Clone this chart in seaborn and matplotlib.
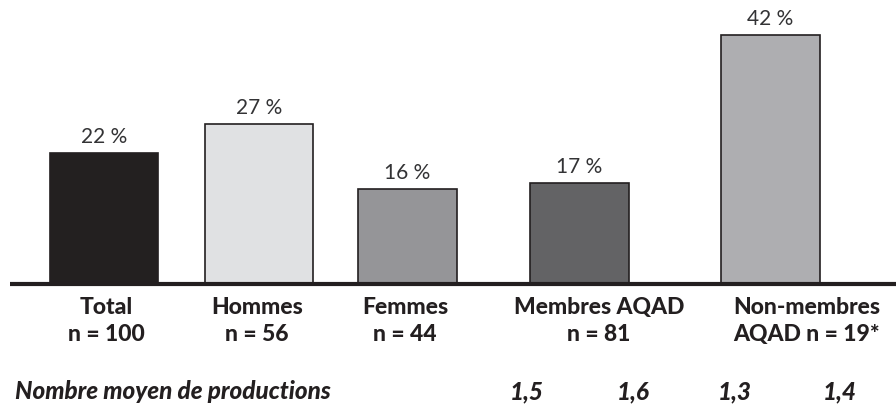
import matplotlib
matplotlib.use("Agg")
import matplotlib.pyplot as plt
import matplotlib.transforms as mtransforms
import seaborn as sns
import pandas as pd

# Data
categories = ["Total", "Hommes", "Femmes", "Membres AQAD", "Non-membres AQAD"]
cat_labels = ["Total\nn = 100", "Hommes\nn = 56", "Femmes\nn = 44",
              "Membres AQAD\nn = 81", "Non-membres\nAQAD n = 19*"]
percentages = [22, 27, 16, 17, 42]
mean_productions = [1.5, 1.6, 1.3, 1.4]
mean_label = "Nombre moyen de productions"

# Layout (horizontal positions on a 0-896 axis)
bar_centers = [104, 259, 407, 579, 770]
bar_widths = [108, 108, 99, 99, 99]
label_centers = [106, 257, 405, 599, 807]
mean_centers = [527, 633, 735, 840]
colors = ["#231f20", "#e0e1e3", "#949598", "#636365", "#adaeb1"]
ink = "#231f20"

sns.set_theme(style="white")
plt.rcParams["font.family"] = ["Lato", "DejaVu Sans"]

fig = plt.figure(figsize=(8.96, 4.14), dpi=100)
ax = fig.add_axes([0, 129 / 414, 1, 1 - 129 / 414])

df = pd.DataFrame({"pos": bar_centers, "pct": percentages, "cat": categories})
sns.barplot(data=df, x="pos", y="pct", hue="cat", palette=colors,
            native_scale=True, dodge=False, legend=False, ax=ax,
            edgecolor=ink, linewidth=1.2, width=0.7)

# Per-bar widths
for patch, c, w in zip(ax.patches, bar_centers, bar_widths):
    patch.set_x(c - w / 2)
    patch.set_width(w)

ax.set_xlim(0, 896)
ax.set_ylim(0, 48)
ax.set_axis_off()

for cont, v in zip(ax.containers, percentages):
    ax.bar_label(cont, labels=[f"{v} %"], padding=5, fontsize=15,
                 fontweight="normal", color="#333335")

# Baseline
ax.plot([10, 896], [0, 0], color=ink, lw=3, clip_on=False,
        solid_capstyle="butt")

trans = mtransforms.blended_transform_factory(ax.transData, fig.transFigure)
for x, lab in zip(label_centers, cat_labels):
    ax.text(x, 1 - 321 / 414, lab, transform=trans, ha="center", va="center",
            fontsize=16.5, fontweight="black", color=ink, linespacing=1.3)

ax.text(15, 1 - 392 / 414, mean_label, transform=trans, ha="left",
        va="center", fontsize=17.5, fontweight="black", fontstyle="italic",
        color=ink)
for x, v in zip(mean_centers, mean_productions):
    ax.text(x, 1 - 392 / 414, f"{v:.1f}".replace(".", ","), transform=trans,
            ha="center", va="center", fontsize=17.5, fontweight="black",
            fontstyle="italic", color=ink)

fig.savefig("out.png", dpi=100, facecolor="white")
